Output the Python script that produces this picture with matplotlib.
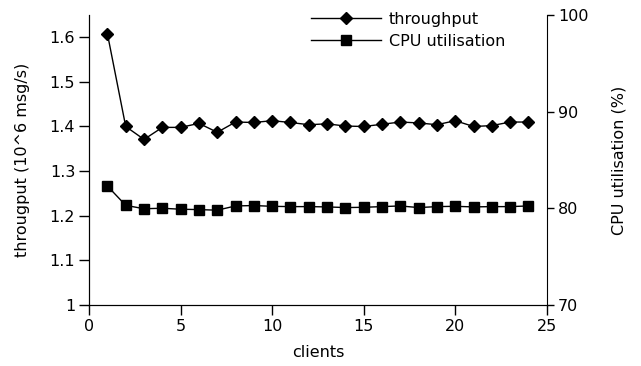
import matplotlib
matplotlib.use("Agg")
import matplotlib.pyplot as plt

clients = list(range(1, 25))
throughput = [1.608, 1.400, 1.371, 1.398, 1.398, 1.407, 1.387, 1.410, 1.409, 1.413,
              1.409, 1.404, 1.406, 1.401, 1.400, 1.405, 1.410, 1.408, 1.404, 1.413,
              1.400, 1.402, 1.410, 1.410]
cpu = [82.3, 80.3, 79.95, 80.0, 79.9, 79.86, 79.8, 80.24, 80.28, 80.2,
       80.17, 80.17, 80.14, 80.07, 80.1, 80.17, 80.24, 80.07, 80.17, 80.2,
       80.14, 80.17, 80.17, 80.24]

plt.rcParams['font.family'] = 'DejaVu Sans'
plt.rcParams['font.size'] = 11.5

fig, ax = plt.subplots(figsize=(6.41, 3.66), dpi=100)
fig.subplots_adjust(left=0.139, right=0.853, bottom=0.167, top=0.959)
ax2 = ax.twinx()

l1, = ax.plot(clients, throughput, color='black', lw=1, marker='D', ms=6,
              label='throughput')
l2, = ax2.plot(clients, cpu, color='black', lw=1, marker='s', ms=7.5,
               label='CPU utilisation')

ax.set_xlim(0, 25)
ax.set_ylim(1, 1.65)
ax2.set_ylim(70, 100)
ax.set_xticks([0, 5, 10, 15, 20, 25])
ax.set_yticks([1, 1.1, 1.2, 1.3, 1.4, 1.5, 1.6])
ax.set_yticklabels(['1', '1.1', '1.2', '1.3', '1.4', '1.5', '1.6'])
ax2.set_yticks([70, 80, 90, 100])

for a in (ax, ax2):
    a.spines['top'].set_visible(False)
ax.tick_params(direction='out', length=7, width=1, pad=3)
ax2.tick_params(direction='out', length=5, width=1, pad=3)
ax.spines['right'].set_visible(False)

ax.set_xlabel('clients', labelpad=8)
ax.set_ylabel('througput (10^6 msg/s)', labelpad=14)
ax2.set_ylabel('CPU utilisation (%)', labelpad=17)

ax2.legend([l1, l2], ['throughput', 'CPU utilisation'], loc='upper right',
           bbox_to_anchor=(0.93, 1.045), frameon=False, handlelength=4.4,
           handletextpad=0.5, borderaxespad=0.2, labelspacing=0.45)

fig.savefig('out.png', dpi=100)
